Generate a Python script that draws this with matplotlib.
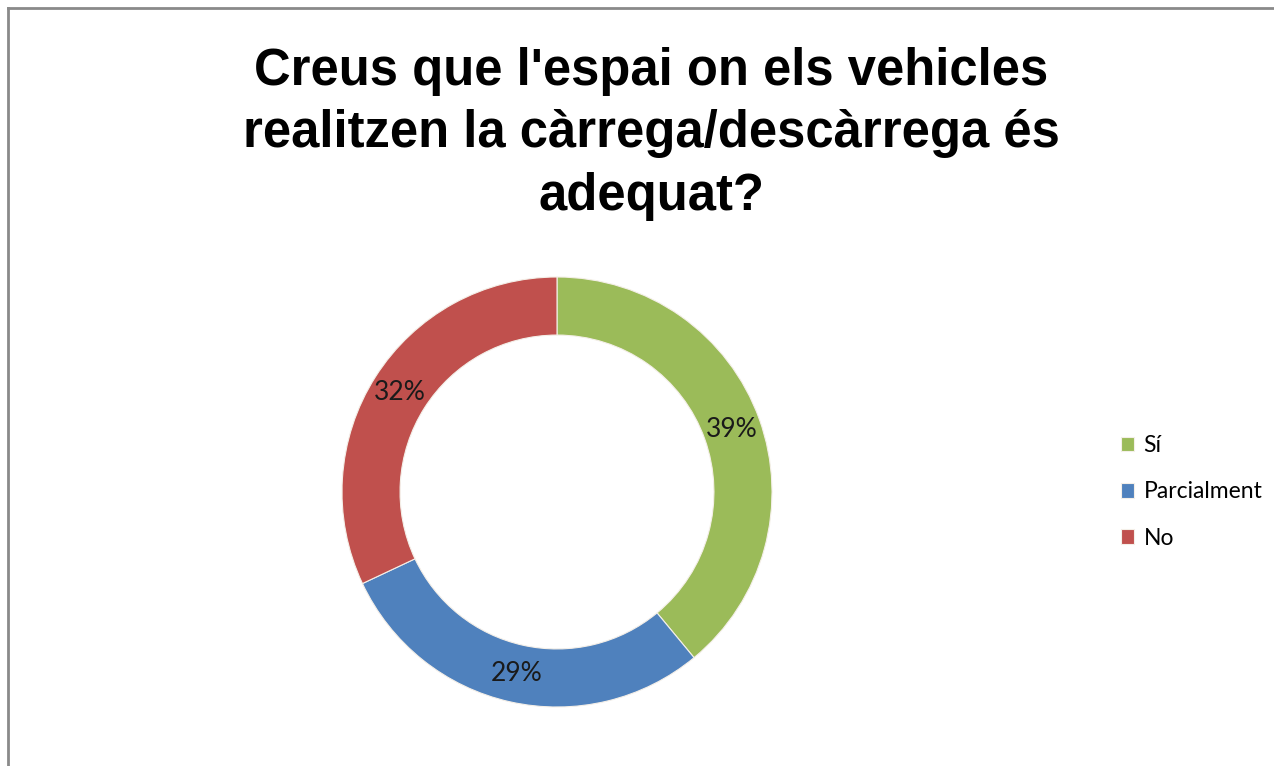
import matplotlib
matplotlib.use("Agg")
import matplotlib.pyplot as plt
from matplotlib.lines import Line2D

categories = ["Sí", "Parcialment", "No"]
shares = [39, 29, 32]
colors = ["#9BBB59", "#4F81BD", "#C0504D"]
title = "Creus que l'espai on els vehicles\nrealitzen la càrrega/descàrrega és\nadequat?"

W, H = 1274, 766
fig = plt.figure(figsize=(W / 100, H / 100), dpi=100)

# frame (only top and left edges visible in the crop)
fig.add_artist(Line2D([8 / W, 1], [1 - 8 / H, 1 - 8 / H], transform=fig.transFigure,
                      color="#8a8a8a", lw=2))
fig.add_artist(Line2D([8 / W, 8 / W], [0, 1 - 8 / H], transform=fig.transFigure,
                      color="#8a8a8a", lw=2))

fig.text(651 / W, 1 - 134 / H, title, ha="center", va="center", fontsize=36.5,
         fontweight="bold", family="Liberation Sans", linespacing=1.36)

ax = fig.add_axes([342 / W, 59 / H, 430 / W, 430 / H])
wedges, texts = ax.pie(shares, colors=colors, startangle=90, counterclock=False,
                       radius=1, wedgeprops=dict(width=0.27, linewidth=0.8, edgecolor="#f4efe8"),
                       labels=[f"{s}%" for s in shares], labeldistance=0.865,
                       textprops=dict(fontsize=19, family="Lato", color="#1a1a1a",
                                      ha="center", va="center"))
for t in texts:
    t.set_ha("center")
ax.set_xlim(-1, 1)
ax.set_ylim(-1, 1)
ax.set_aspect("equal")
ax.axis("off")

fig.legend(wedges, categories, loc="center left", bbox_to_anchor=(1100 / W, 1 - 492 / H),
           frameon=False, prop=dict(family="Lato", size=16.5), handlelength=0.6,
           handleheight=0.6, handletextpad=0.4, labelspacing=1.1)

fig.savefig("out.png", dpi=100, facecolor="white")
